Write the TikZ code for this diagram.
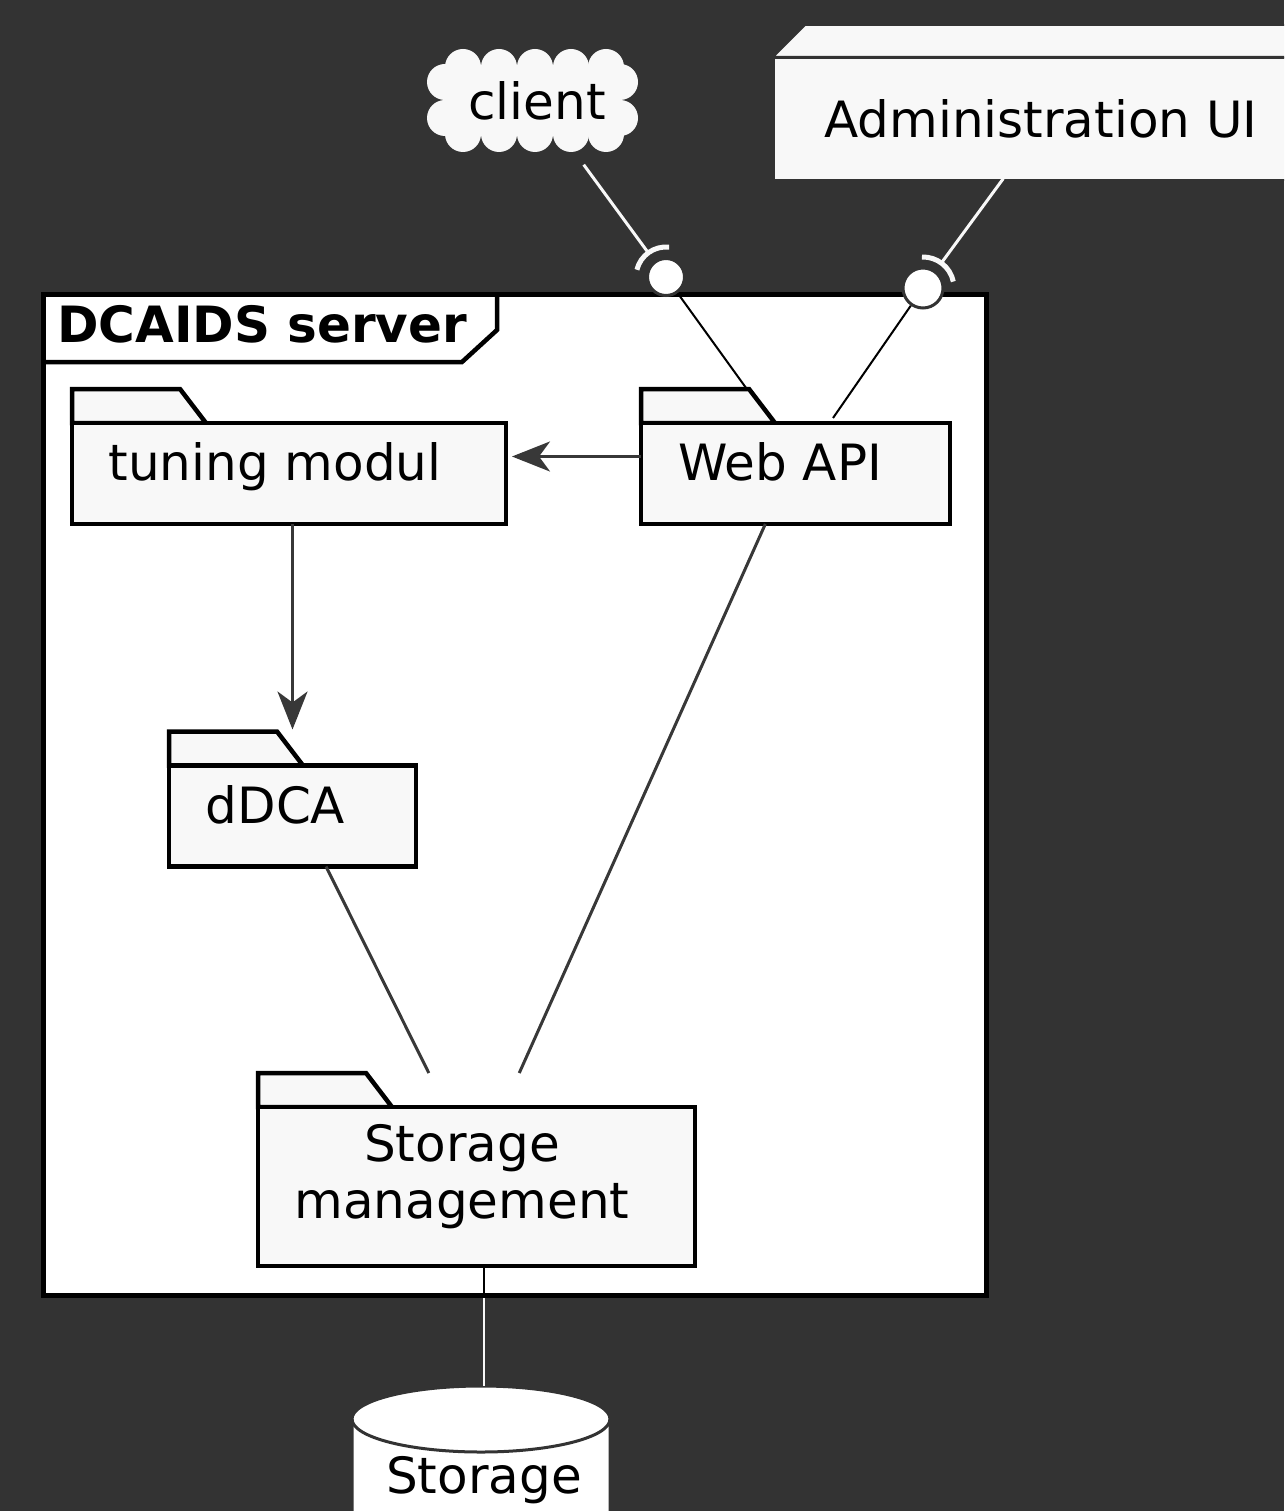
\documentclass[tikz,border=0pt]{standalone}
\usepackage{fontspec}
\setmainfont{DejaVu Sans}
\usetikzlibrary{arrows.meta}
\definecolor{bg}{HTML}{333333}
\definecolor{pale}{HTML}{F8F8F8}
\definecolor{wire}{HTML}{383838}

\begin{document}
\begin{tikzpicture}[x=1pt,y=-1pt]
	\tikzstyle{every node}=[font=\fontsize{50}{57}\selectfont]
	\tikzstyle{pkg}=[minimum height=135pt,outer sep=0pt]
	\tikzstyle{folder}=[draw=black,fill=pale,line width=4.5pt]
	\tikzstyle{lolli}=[circle,draw=bg,fill=white,line width=3pt,inner sep=0pt,minimum size=37pt]
	\tikzstyle{dep}=[draw=wire,line width=3pt]
	\tikzstyle{uses}=[dep,-{Stealth[length=38pt,width=30pt,inset=11pt]}]

	\useasboundingbox (0,0) rectangle (1284,1511);
	\fill[bg] (0,0) rectangle (1284,1511);
	\clip (0,0) rectangle (1284,1511);

	% outside the server
	\node[draw=bg,fill=pale,line width=2pt,minimum width=534pt,minimum height=122pt] (admin) at (1041,119) {Administration UI};
	\filldraw[draw=bg,fill=pale,line width=2pt] (admin.north west) -- ++(32,-32) -- ([yshift=32pt]admin.north east) -- (admin.north east) -- cycle;

	\fill[pale] (445,67) rectangle (620,134);
	\foreach \x in {463,499,535,571,606}
		\fill[pale] (\x,67) circle[radius=18pt] (\x,134) circle[radius=18pt];
	\foreach \y in {82,118}
		\fill[pale] (445,\y) circle[radius=18pt] (620,\y) circle[radius=18pt];
	\node (client) at (537,101) {client};

	% the server frame
	\node[draw=black,fill=white,line width=5pt,minimum width=943pt,minimum height=1000pt] (server) at (514.5,795) {};
	\draw[line width=4.5pt] (43,362) -- (462,362) -- (497,330) -- (497,295);
	\node[anchor=base west,inner sep=0pt,font=\fontsize{50}{57}\selectfont\bfseries] (servername) at (57,342) {DCAIDS server};

	% packages
	\node[pkg,minimum width=434pt] (tuning) at (289,456.5) {};
	\node[pkg,minimum width=309pt] (webapi) at (795.5,456.5) {};
	\node[pkg,minimum width=247pt] (ddca) at (292.5,799) {};
	\node[pkg,minimum width=437pt,minimum height=193pt] (mgmt) at (476.5,1169.5) {};
	\foreach \p in {tuning,webapi,ddca,mgmt} {
		\filldraw[folder] (\p.north west) -- ++(108,0) -- ++(26,34) -- ++(-134,0) -- cycle;
		\filldraw[folder] ([yshift=-34pt]\p.north west) rectangle (\p.south east);
	}
	\node[anchor=base] (tuningtxt) at (275,480) {tuning modul};
	\node[anchor=base] (webapitxt) at (780,480) {Web API};
	\node[anchor=base] (ddcatxt) at (275.5,823) {dDCA};
	\node[align=center] (mgmttxt) at (462,1177) {Storage\\management};

	\draw[uses,shorten >=6pt] (webapi) -- (tuning);
	\draw[uses,shorten >=2pt] (tuning.south -| ddca) -- (ddca);
	\draw[dep] (ddca) -- (mgmt);
	\draw[dep] (webapi) -- (mgmt);

	% interfaces
	\node[lolli] (ifc) at (666,277) {};
	\node[lolli,minimum size=40pt] (ifa) at (923,288) {};
	\draw[pale,line width=3pt,shorten <=79pt,shorten >=31pt] (client.center) -- (ifc.center);
	\draw[pale,line width=3pt,shorten <=74pt,shorten >=31pt] ([xshift=6pt]admin.center) -- (ifa.center);
	\draw[pale,line width=5pt] ([shift={(166:30pt)}]ifc.center) arc[start angle=166,end angle=84,radius=30pt];
	\draw[pale,line width=5pt] ([shift={(92:31pt)}]ifa.center) arc[start angle=92,end angle=12,radius=31pt];
	\coordinate (wapi2) at (833,418);
	\draw[line width=2pt] (ifc) -- (webapi);
	\draw[line width=2pt] (ifa) -- (wapi2);

	% storage
	\filldraw[fill=white,draw=bg,line width=3pt] (352,1419) arc[start angle=180,end angle=0,x radius=129pt,y radius=33pt] -- (610,1540) -- (352,1540) -- cycle;
	\draw[bg,line width=3pt] (352,1419) arc[start angle=180,end angle=360,x radius=129pt,y radius=33pt];
	\node[anchor=base,inner sep=0pt,text height=107pt,text depth=0pt] (db) at (484,1493) {Storage};
	\draw[pale,line width=2pt] (db) -- (db |- mgmt.south);
	\draw[line width=2pt] (db |- mgmt.south) -- (db |- server.south);
\end{tikzpicture}
\end{document}
